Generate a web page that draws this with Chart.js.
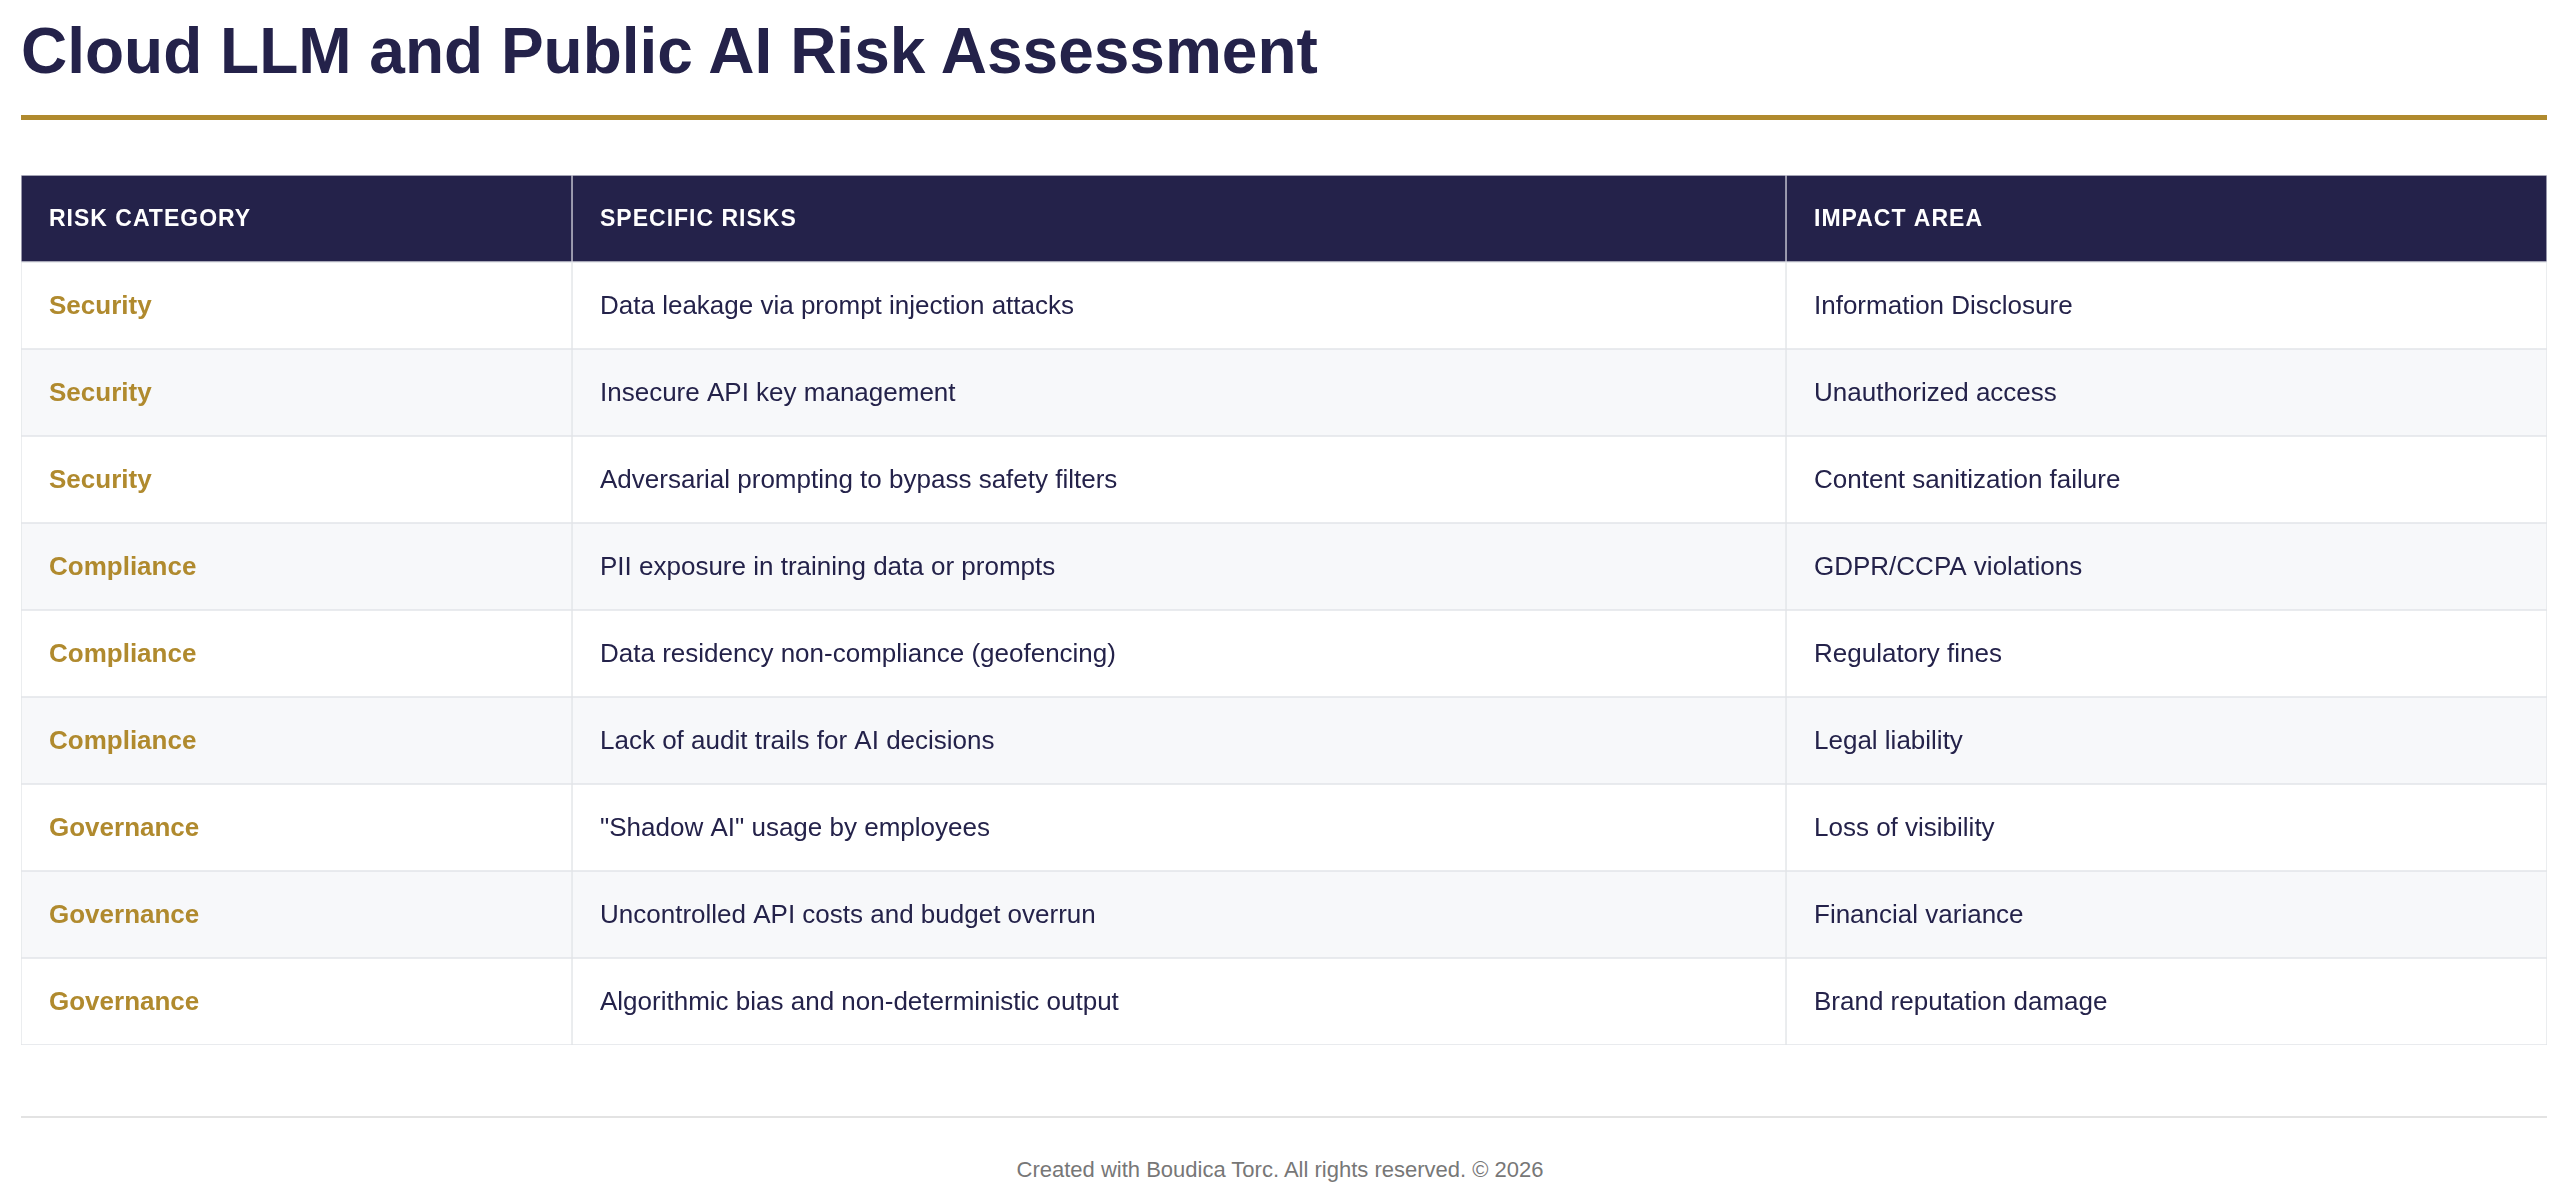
<!DOCTYPE html>
<html><head><meta charset="utf-8">
<script src="https://cdn.jsdelivr.net/npm/chart.js@4/dist/chart.umd.min.js"></script>
<style>
html,body{margin:0;padding:0;background:#fff;width:2560px;height:1191px;overflow:hidden;font-family:"Liberation Sans",Arial,sans-serif;}
#title{position:absolute;left:21px;top:14px;font-size:64px;font-weight:bold;color:#24224a;margin:0;line-height:74px;}
#rule{position:absolute;left:21px;top:115px;width:2526px;height:5px;background:#b08a2e;}
#wrap{position:absolute;left:0;top:174px;width:2560px;height:872px;}
#footline{position:absolute;left:21px;top:1116px;width:2526px;height:2px;background:#e3e3e3;}
#foot{position:absolute;left:0;width:2560px;top:1157px;text-align:center;font-size:22px;color:#777;}
</style></head><body>
<h1 id="title">Cloud LLM and Public AI Risk Assessment</h1>
<div id="rule"></div>
<div id="wrap"><canvas id="c" width="2560" height="872"></canvas></div>
<div id="footline"></div>
<div id="foot">Created with Boudica Torc. All rights reserved. © 2026</div>
<script>
const headers = ["RISK CATEGORY", "SPECIFIC RISKS", "IMPACT AREA"];
const categories = ["Security","Security","Security","Compliance","Compliance","Compliance","Governance","Governance","Governance"];
const risks = ["Data leakage via prompt injection attacks","Insecure API key management","Adversarial prompting to bypass safety filters","PII exposure in training data or prompts","Data residency non-compliance (geofencing)","Lack of audit trails for AI decisions","\"Shadow AI\" usage by employees","Uncontrolled API costs and budget overrun","Algorithmic bias and non-deterministic output"];
const impacts = ["Information Disclosure","Unauthorized access","Content sanitization failure","GDPR/CCPA violations","Regulatory fines","Legal liability","Loss of visibility","Financial variance","Brand reputation damage"];

// layout (not data)
const colEdges = [0, 551, 1765, 2526];
const rowLabels = ["header"].concat(categories.map((c,i)=>"r"+i));
const columns = [ ["header"].concat(categories), ["header"].concat(risks), ["header"].concat(impacts) ];
columns[0][0]=headers[0]; columns[1][0]=headers[1]; columns[2][0]=headers[2];

const NAVY="#24224a", GOLD="#b08a2e";
const bg = rowLabels.map((r,i)=> i===0 ? NAVY : (i%2===0 ? "#f7f8fa" : "#ffffff"));

const datasets = columns.map((col,ci)=>({
  data: rowLabels.map(()=>[colEdges[ci], colEdges[ci+1]]),
  texts: col,
  backgroundColor: bg,
  borderColor: rowLabels.map((r,i)=> i===0 ? "#cfd0da" : "#e2e4e8"),
  borderWidth: 1,
  borderSkipped: false,
  grouped: false,
  categoryPercentage: 1,
  barPercentage: 1
}));

const textPlugin = {
  id:"cellText",
  afterDatasetsDraw(chart){
    const ctx = chart.ctx;
    chart.data.datasets.forEach((ds,di)=>{
      const meta = chart.getDatasetMeta(di);
      meta.data.forEach((bar,ri)=>{
        const left = Math.min(bar.x, bar.base);
        const t = ds.texts[ri];
        ctx.save();
        ctx.textBaseline="middle";
        ctx.textAlign="left";
        if(ri===0){
          ctx.font='bold 23px "Liberation Sans", Arial, sans-serif';
          ctx.fillStyle="#ffffff";
          ctx.letterSpacing="1px";
        } else if(di===0){
          ctx.font='bold 26px "Liberation Sans", Arial, sans-serif';
          ctx.fillStyle=GOLD;
        } else {
          ctx.font='26px "Liberation Sans", Arial, sans-serif';
          ctx.fillStyle=NAVY;
        }
        ctx.fillText(t, left+28, bar.y+1);
        ctx.restore();
      });
    });
  }
};

new Chart(document.getElementById("c"),{
  type:"bar",
  data:{labels:rowLabels, datasets},
  options:{
    indexAxis:"y",
    responsive:false,
    devicePixelRatio:1,
    animation:false,
    layout:{padding:{left:21,right:13,top:1,bottom:1}},
    plugins:{legend:{display:false},tooltip:{enabled:false}},
    scales:{
      x:{type:"linear",min:colEdges[0],max:colEdges[3],display:false},
      y:{type:"category",display:false,offset:true}
    }
  },
  plugins:[textPlugin]
});
</script>
</body></html>
